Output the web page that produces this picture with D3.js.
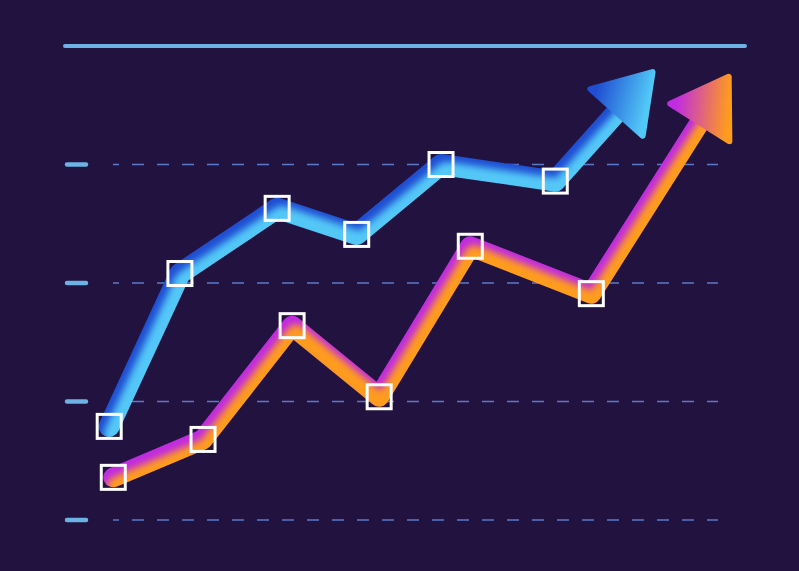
<!DOCTYPE html>
<html><head><meta charset="utf-8">
<script src="https://cdn.jsdelivr.net/npm/d3@7"></script>
<style>html,body{margin:0;padding:0;background:#22123f;}svg{display:block;}</style>
</head><body>
<svg id="c" width="799" height="571"></svg>
<script>
// ---- data ----
const gridValues = [0, 1, 2, 3];
const topValue = 4;
const blueX = [6.5, 16.9, 31.2, 42.9, 55.3, 72.1];
const blueY = [0.79, 2.08, 2.63, 2.41, 3.0, 2.86];
const blueTip = [86.4, 3.78];
const orangeX = [7.1, 20.3, 33.4, 46.2, 59.6, 77.4];
const orangeY = [0.36, 0.68, 1.64, 1.04, 2.31, 1.91];
const orangeTip = [97.6, 3.74];

const W = 799, H = 571;
const svg = d3.select('#c');
svg.append('rect').attr('width', W).attr('height', H).attr('fill', '#22123f');

const x = d3.scaleLinear().domain([0, 100]).range([65, 745]);
const y = d3.scaleLinear().domain([0, 4]).range([520, 46]);

const defs = svg.append('defs');
defs.append('filter').attr('id', 'blur').attr('x', '-20%').attr('y', '-20%').attr('width', '140%').attr('height', '140%')
  .append('feGaussianBlur').attr('stdDeviation', 3.5);

// grid
const g = svg.append('g');
g.selectAll('line.dash').data(gridValues).join('line')
  .attr('x1', 113).attr('x2', 718)
  .attr('y1', d => y(d)).attr('y2', d => y(d))
  .attr('stroke', '#5b79c9').attr('stroke-width', 1.6)
  .attr('stroke-dasharray', '12 13').attr('stroke-dashoffset', 6);
g.selectAll('line.tick').data(gridValues).join('line')
  .attr('x1', 67).attr('x2', 86)
  .attr('y1', d => y(d)).attr('y2', d => y(d))
  .attr('stroke', '#6cb2e4').attr('stroke-width', 4.5).attr('stroke-linecap', 'round');
g.append('line').attr('x1', x(0)).attr('x2', x(100)).attr('y1', y(topValue)).attr('y2', y(topValue))
  .attr('stroke', '#6cb2e4').attr('stroke-width', 4).attr('stroke-linecap', 'round');

function drawSeries(id, xs, ys, tip, cTop, cBot, width, shift) {
  const pts = xs.map((v, i) => [x(v), y(ys[i])]);
  const last = pts[pts.length - 1];
  const T = [x(tip[0]), y(tip[1])];
  const dx = T[0] - last[0], dy = T[1] - last[1];
  const L = Math.hypot(dx, dy), ux = dx / L, uy = dy / L;
  const headLen = 54, halfW = 35;
  const base = [T[0] - ux * headLen, T[1] - uy * headLen];
  const linePts = pts.concat([[base[0] + ux * 10, base[1] + uy * 10]]);
  const line = d3.line();
  const dStr = line(linePts);

  const mask = defs.append('mask').attr('id', 'm' + id).attr('maskUnits', 'userSpaceOnUse')
    .attr('x', 0).attr('y', 0).attr('width', W).attr('height', H);
  mask.append('path').attr('d', dStr).attr('fill', 'none').attr('stroke', '#fff')
    .attr('stroke-width', width).attr('stroke-linejoin', 'round').attr('stroke-linecap', 'round');

  const grp = svg.append('g').attr('mask', `url(#m${id})`);
  grp.append('path').attr('d', dStr).attr('fill', 'none').attr('stroke', cTop)
    .attr('stroke-width', width + 4).attr('stroke-linejoin', 'round').attr('stroke-linecap', 'round');
  grp.append('path').attr('d', dStr).attr('fill', 'none').attr('stroke', cBot)
    .attr('stroke-width', width).attr('stroke-linejoin', 'round').attr('stroke-linecap', 'round')
    .attr('transform', `translate(${shift[0]},${shift[1]})`).attr('filter', 'url(#blur)');

  // arrow head
  const px = -uy, py = ux;
  const tri = [T, [base[0] + px * halfW, base[1] + py * halfW], [base[0] - px * halfW, base[1] - py * halfW]];
  const left = tri[1][0] < tri[2][0] ? tri[1] : tri[2];
  const right = tri[1][0] < tri[2][0] ? tri[2] : tri[1];
  const gr = defs.append('linearGradient').attr('id', 'tg' + id).attr('gradientUnits', 'userSpaceOnUse')
    .attr('x1', left[0]).attr('y1', left[1]).attr('x2', (T[0] + right[0]) / 2).attr('y2', (T[1] + right[1]) / 2);
  gr.append('stop').attr('offset', 0.1).attr('stop-color', cTop);
  gr.append('stop').attr('offset', 1).attr('stop-color', cBot);
  svg.append('path').attr('d', 'M' + tri.map(p => p.join(',')).join('L') + 'Z')
    .attr('fill', `url(#tg${id})`).attr('stroke', `url(#tg${id})`).attr('stroke-width', 6)
    .attr('stroke-linejoin', 'round');

  // markers
  svg.append('g').selectAll('rect').data(pts).join('rect')
    .attr('x', d => d[0] - 12).attr('y', d => d[1] - 12)
    .attr('width', 24).attr('height', 24)
    .attr('fill', 'none').attr('stroke', '#ffffff').attr('stroke-width', 3);
}

drawSeries('b', blueX, blueY, blueTip, '#1f4ed2', '#52c8f7', 21, [5, 8]);
drawSeries('o', orangeX, orangeY, orangeTip, '#c02ce0', '#ff9c1c', 20, [4, 9]);
</script>
</body></html>
